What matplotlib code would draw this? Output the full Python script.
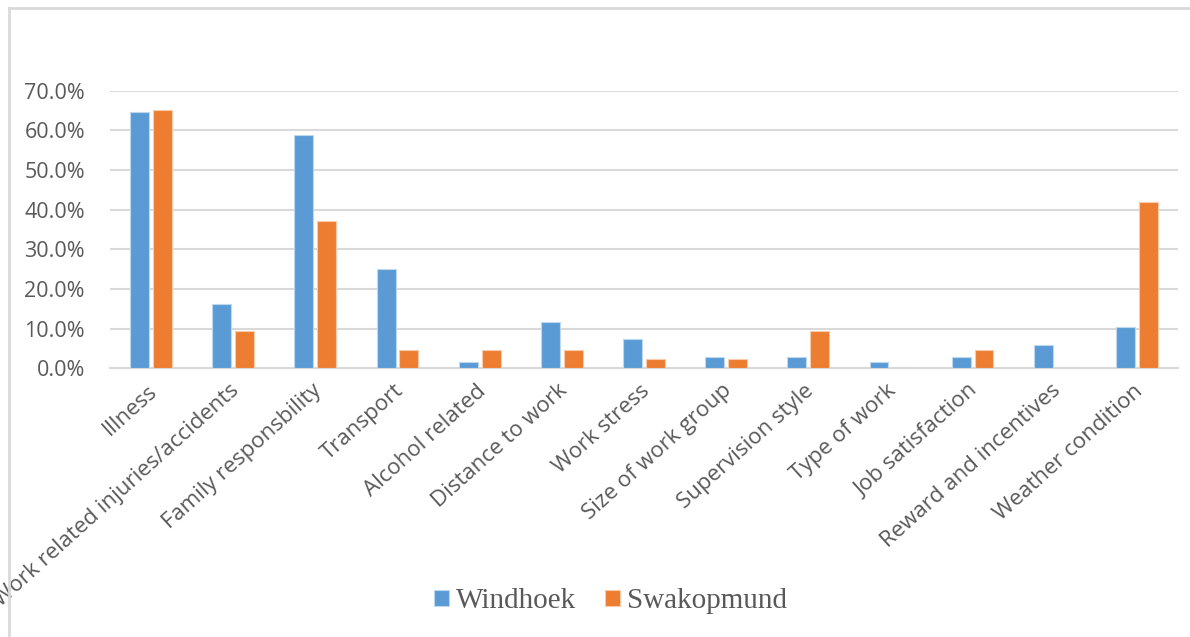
import numpy as np
import matplotlib.pyplot as plt
import matplotlib.transforms as mtransforms
from matplotlib.lines import Line2D
from matplotlib.ticker import PercentFormatter

categories = ["Illness", "Work related injuries/accidents", "Family responsbility",
              "Transport", "Alcohol related", "Distance to work", "Work stress",
              "Size of work group", "Supervision style", "Type of work",
              "Job satisfaction", "Reward and incentives", "Weather condition"]
windhoek = [64.7, 16.2, 58.8, 25.0, 1.5, 11.8, 7.4, 2.9, 2.9, 1.5, 2.9, 5.9, 10.3]
swakopmund = [65.1, 9.3, 37.2, 4.7, 4.7, 4.7, 2.3, 2.3, 9.3, 0.0, 4.7, 0.0, 41.9]
yticks = [0, 10, 20, 30, 40, 50, 60, 70]

blue = "#5B9BD5"
orange = "#ED7D31"
grey = "#595959"

fig = plt.figure(figsize=(11.9, 6.37), dpi=100)
ax = fig.add_axes([0.0924, 0.4218, 0.8975, 0.4358])

x = np.arange(len(categories))
w = 0.23
off = 0.139
ax.bar(x - off, windhoek, w, color=blue, edgecolor="#BDD7EE", linewidth=0.8,
       label="Windhoek", zorder=3)
ax.bar(x + off, swakopmund, w, color=orange, edgecolor="#F8CBAD", linewidth=0.8,
       label="Swakopmund", zorder=3)

ax.set_xlim(-0.5, len(categories) - 0.5)
ax.set_ylim(0, 70)
ax.set_yticks(yticks)
ax.yaxis.set_major_formatter(PercentFormatter(decimals=1))
ax.grid(axis="y", color="#D9D9D9", linewidth=1.5, zorder=0)
for s in ["top", "right", "left"]:
    ax.spines[s].set_visible(False)
ax.spines["bottom"].set_color("#D9D9D9")
ax.spines["bottom"].set_linewidth(1.5)
ax.tick_params(axis="y", length=0, pad=18, labelsize=15.5, labelcolor=grey)
ax.tick_params(axis="x", length=0, pad=0)
for lab in ax.get_yticklabels():
    lab.set_fontfamily("Open Sans")

ax.set_xticks(x)
ax.set_xticklabels(categories, rotation=42, ha="right", va="top",
                   rotation_mode="anchor", fontsize=16, color=grey,
                   fontfamily="Open Sans")
shift = mtransforms.ScaledTranslation(-4 / 100, -12 / 100, fig.dpi_scale_trans)
for lab in ax.get_xticklabels():
    lab.set_transform(lab.get_transform() + shift)

leg = fig.legend(loc="center", bbox_to_anchor=(0.513, 0.056), ncol=2, frameon=False,
                 prop={"family": "Liberation Serif", "size": 21},
                 handlelength=0.5, handleheight=0.5, handletextpad=0.25,
                 columnspacing=1.0)
for t in leg.get_texts():
    t.set_color(grey)

# outer frame (top and left edges)
fig.add_artist(Line2D([9 / 1190, 1], [1 - 8 / 637] * 2, color="#D9D9D9", linewidth=2))
fig.add_artist(Line2D([9 / 1190] * 2, [0, 1 - 8 / 637], color="#D9D9D9", linewidth=2))

fig.savefig("out.png", dpi=100)
